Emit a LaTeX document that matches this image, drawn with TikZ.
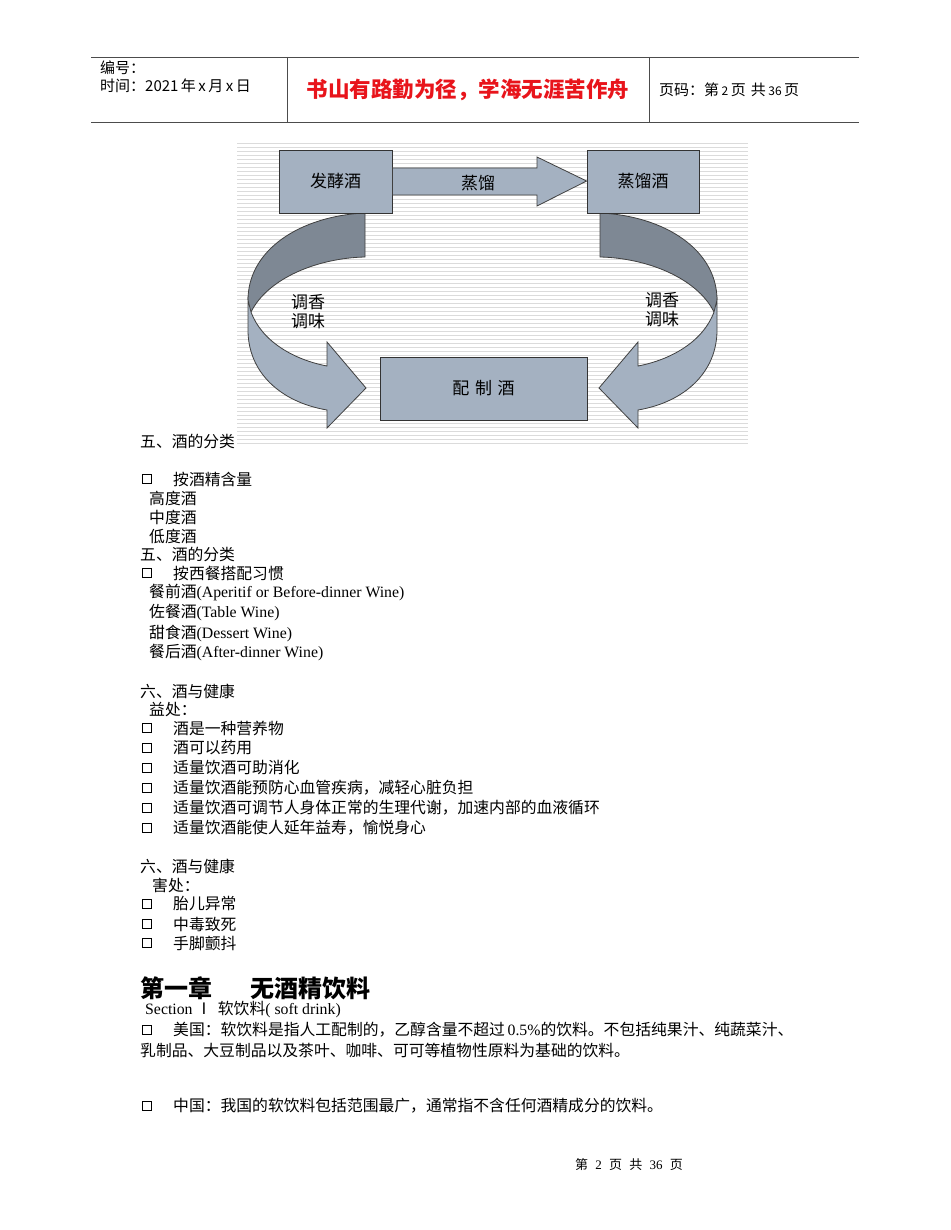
\documentclass[tikz,border=0pt]{standalone}
\usepackage{fontspec}
\setmainfont{Liberation Serif}
\newfontfamily\cjk{Noto Sans CJK SC}
\definecolor{boxfill}{HTML}{A4B1C1}
\definecolor{darkband}{HTML}{7E8894}
\definecolor{motto}{HTML}{E8141B}
\begin{document}
\begin{tikzpicture}[x=1pt,y=-1pt,
  bt/.style={anchor=west,inner sep=0pt,font=\fontsize{15.8}{18}\selectfont\cjk},
  chk/.style={draw,line width=1.1pt,minimum size=9pt,inner sep=0pt,anchor=west},
  dbox/.style={draw=black!80,fill=boxfill,line width=0.8pt,inner sep=0pt,font=\fontsize{17}{20}\selectfont\cjk},
  lab/.style={inner sep=0pt,font=\fontsize{17}{20}\selectfont\cjk,align=center},
  band/.style={draw=black!75,line width=0.8pt}]
\useasboundingbox (0,0) rectangle (950,1230);
\fill[white] (0,0) rectangle (950,1230);
% header
\draw[line width=0.8pt,black!70] (91,57) -- (859,57) (91,122) -- (859,122);
\draw[line width=0.6pt,black!70] (287,57) -- (287,122) (649,57) -- (649,122);
\node[anchor=west,inner sep=0pt,font=\fontsize{15}{17}\selectfont\cjk] (h1) at (100,68) {编号：};
\node[anchor=west,inner sep=0pt,font=\fontsize{15}{17}\selectfont\cjk] (h2) at (100,86) {时间：2021\,年\,x\,月\,x\,日};
\node[inner sep=0pt,text=motto,font=\fontsize{21.5}{24}\selectfont\cjk\bfseries] (h3) at (468,90) {书山有路勤为径，学海无涯苦作舟};
\node[anchor=west,inner sep=0pt,font=\fontsize{15}{17}\selectfont\cjk] (h4) at (659,90) {页码：第\,{\fontsize{12}{14}\selectfont 2}\,页\,\,共\,{\fontsize{12}{14}\selectfont 36}\,页};
% diagram background
\foreach \yy in {143,147,...,445} \draw[black!14,line width=0.9pt] (237,\yy) -- (748,\yy);
% curved bands (left)
\begin{scope}
\fill[darkband] (365,213) .. controls (300,216) and (248,250) .. (248,300) -- (251,312) .. controls (268,278) and (318,258) .. (365,257) -- cycle;
\draw[band] (365,213) .. controls (300,216) and (248,250) .. (248,300) (251,312) .. controls (268,278) and (318,258) .. (365,257) -- (365,213);
\filldraw[band,fill=boxfill] (251,312) .. controls (262,342) and (295,360) .. (327,366) -- (327,342) -- (366,388) -- (327,428) -- (327,410) .. controls (280,402) and (248,372) .. (248,330) -- (248,300) -- cycle;
\end{scope}
% right (mirror)
\begin{scope}[xshift=965,xscale=-1]
\fill[darkband] (365,213) .. controls (300,216) and (248,250) .. (248,300) -- (251,312) .. controls (268,278) and (318,258) .. (365,257) -- cycle;
\draw[band] (365,213) .. controls (300,216) and (248,250) .. (248,300) (251,312) .. controls (268,278) and (318,258) .. (365,257) -- (365,213);
\filldraw[band,fill=boxfill] (251,312) .. controls (262,342) and (295,360) .. (327,366) -- (327,342) -- (366,388) -- (327,428) -- (327,410) .. controls (280,402) and (248,372) .. (248,330) -- (248,300) -- cycle;
\end{scope}
% boxes
\node[dbox,minimum width=113pt,minimum height=63pt] (f) at (335.5,181.5) {发酵酒};
\node[dbox,minimum width=112pt,minimum height=63pt] (d) at (643,181.5) {蒸馏酒};
\node[dbox,minimum width=207pt,minimum height=63pt] (p) at (483.5,388.5) {配\,\,制\,\,酒};
\filldraw[band,fill=boxfill] (f.east |- 0,168) -- (537,168) -- (537,157) -- (d.west |- 0,181) -- (537,206) -- (537,195) -- (f.east |- 0,195) -- cycle;
\node[lab] (zl) at (478,183) {蒸馏};
\node[lab] (l1) at (308,312) {调香\\[-1pt]调味};
\node[lab] (l2) at (662,310) {调香\\[-1pt]调味};
% body text
\node[bt] (b1) at (140,441) {五、酒的分类};
\node[chk] (c1) at (142,479) {}; \node[bt] (b2) at (173,479) {按酒精含量};
\node[bt] (b3) at (149,498) {高度酒};
\node[bt] (b4) at (149,517) {中度酒};
\node[bt] (b5) at (149,536) {低度酒};
\node[bt] (b6) at (140,554) {五、酒的分类};
\node[chk] (c2) at (142,573) {}; \node[bt] (b7) at (173,573) {按西餐搭配习惯};
\node[bt] (b8) at (149,593) {餐前酒{\rmfamily(Aperitif or Before-dinner Wine)}};
\node[bt] (b9) at (149,613) {佐餐酒{\rmfamily(Table Wine)}};
\node[bt] (b10) at (149,633) {甜食酒{\rmfamily(Dessert Wine)}};
\node[bt] (b11) at (149,653) {餐后酒{\rmfamily(After-dinner Wine)}};
\node[bt] (b12) at (140,691) {六、酒与健康};
\node[bt] (b13) at (149,709) {益处：};
\node[chk] (c3) at (142,728) {}; \node[bt] (b14) at (173,728) {酒是一种营养物};
\node[chk] (c4) at (142,748) {}; \node[bt] (b15) at (173,748) {酒可以药用};
\node[chk] (c5) at (142,768) {}; \node[bt] (b16) at (173,768) {适量饮酒可助消化};
\node[chk] (c6) at (142,788) {}; \node[bt] (b17) at (173,788) {适量饮酒能预防心血管疾病，减轻心脏负担};
\node[chk] (c7) at (142,808) {}; \node[bt] (b18) at (173,808) {适量饮酒可调节人身体正常的生理代谢，加速内部的血液循环};
\node[chk] (c8) at (142,828) {}; \node[bt] (b19) at (173,828) {适量饮酒能使人延年益寿，愉悦身心};
\node[bt] (b20) at (140,866) {六、酒与健康};
\node[bt] (b21) at (152,885) {害处：};
\node[chk] (c9) at (142,904) {}; \node[bt] (b22) at (173,904) {胎儿异常};
\node[chk] (c10) at (142,924) {}; \node[bt] (b23) at (173,924) {中毒致死};
\node[chk] (c11) at (142,943) {}; \node[bt] (b24) at (173,943) {手脚颤抖};
\node[anchor=west,inner sep=0pt,font=\fontsize{24}{27}\selectfont\cjk\bfseries] (ch) at (140,988) {第一章\hspace{38pt}无酒精饮料};
\node[bt] (b25) at (145,1010) {{\rmfamily Section} Ⅰ\hspace{6pt}软饮料{\rmfamily( soft drink)}};
\node[chk] (c12) at (142,1030) {}; \node[bt] (b26) at (173,1030) {美国：软饮料是指人工配制的，乙醇含量不超过\,{\rmfamily 0.5\%}的饮料。不包括纯果汁、纯蔬菜汁、};
\node[bt] (b27) at (140,1050) {乳制品、大豆制品以及茶叶、咖啡、可可等植物性原料为基础的饮料。};
\node[chk] (c13) at (142,1106) {}; \node[bt] (b28) at (173,1106) {中国：我国的软饮料包括范围最广，通常指不含任何酒精成分的饮料。};
\node[inner sep=0pt,font=\fontsize{13}{15}\selectfont\cjk] (ft) at (629,1165) {第\;\;{\rmfamily 2}\;\;页\;\;共\;\;{\rmfamily 36}\;\;页};
\end{tikzpicture}
\end{document}
